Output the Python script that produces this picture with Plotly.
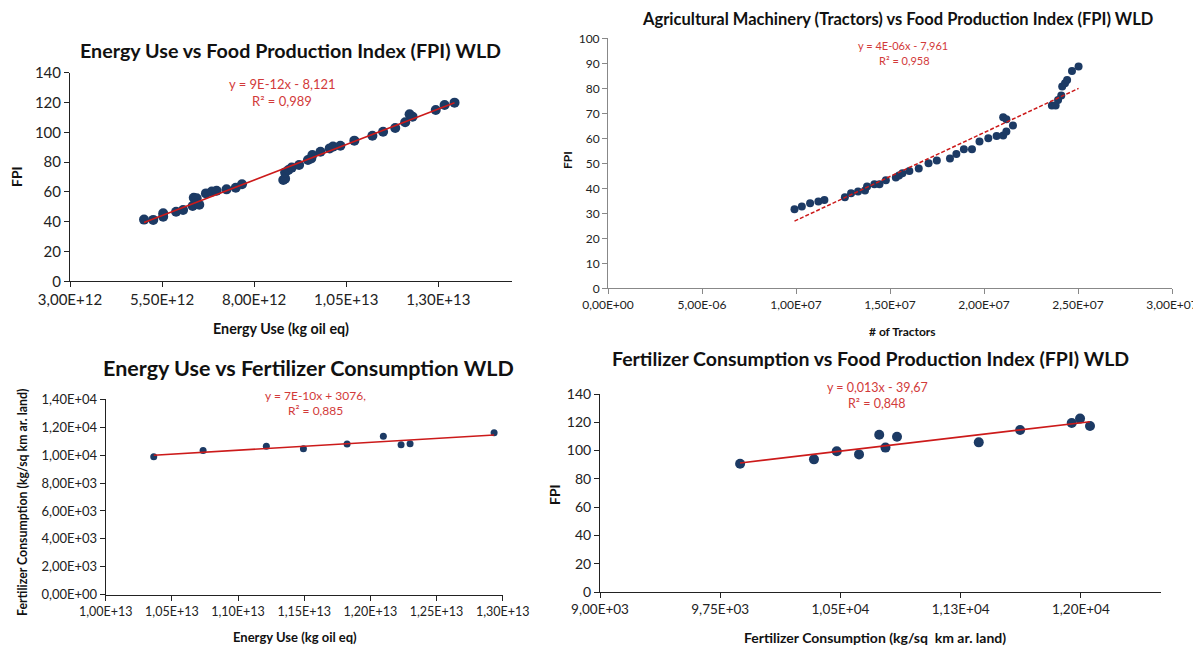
import numpy as np
import plotly.graph_objects as go

W, H = 1201, 648
OX, OY = 8, 8          # page body margin of the html page
FW, FH = W - OX, H - OY

# ---------------- DATA ----------------
# Panel 1: Energy use (kg oil eq) vs FPI
energy_p1 = [5.01e12, 5.26e12, 5.53e12, 5.53e12, 5.88e12, 6.07e12, 6.33e12, 6.36e12, 6.44e12, 6.44e12,
             6.51e12, 6.69e12, 6.85e12, 6.98e12, 7.25e12, 7.50e12, 7.67e12, 8.79e12, 8.84e12, 8.84e12,
             8.93e12, 9.02e12, 9.22e12, 9.46e12, 9.55e12, 9.58e12, 9.80e12, 10.05e12, 10.14e12, 10.34e12,
             10.72e12, 11.21e12, 11.50e12, 11.83e12, 12.10e12, 12.22e12, 12.30e12, 12.93e12, 13.17e12, 13.44e12]
fpi_p1 = [41.4, 41.2, 45.6, 43.4, 46.7, 47.9, 50.5, 56.1, 55.7, 52.3,
          51.4, 59.0, 60.2, 60.8, 61.7, 62.8, 65.1, 68.0, 68.9, 73.1,
          74.7, 76.3, 78.1, 81.4, 82.5, 84.8, 87.0, 89.2, 90.4, 91.0,
          94.4, 97.7, 100.4, 102.9, 106.7, 112.1, 110.5, 115.0, 118.3, 119.9]

# Panel 2: number of tractors vs FPI
tractors_p2 = [9.92e6, 10.31e6, 10.75e6, 11.19e6, 11.51e6, 12.60e6, 12.93e6, 13.30e6, 13.67e6, 13.78e6,
               14.17e6, 14.44e6, 14.78e6, 15.31e6, 15.48e6, 15.66e6, 16.03e6, 16.53e6, 17.05e6, 17.49e6,
               18.19e6, 18.53e6, 18.93e6, 19.36e6, 19.76e6, 20.23e6, 20.67e6, 21.02e6, 21.02e6, 21.19e6,
               21.19e6, 21.54e6, 23.61e6, 23.81e6, 23.94e6, 24.11e6, 24.16e6, 24.31e6, 24.42e6, 24.68e6,
               25.03e6]
fpi_p2 = [31.6, 32.7, 34.0, 34.7, 35.3, 36.4, 38.0, 38.7, 39.1, 40.7,
          41.6, 41.6, 43.2, 44.3, 45.1, 46.0, 46.9, 47.9, 50.0, 51.1,
          51.9, 53.7, 55.6, 55.6, 58.7, 60.0, 60.9, 61.1, 68.4, 67.6,
          62.7, 65.1, 73.1, 73.1, 75.3, 77.1, 80.7, 82.0, 83.3, 86.9,
          88.7]

# Panel 3: Energy use vs fertilizer consumption
energy_p3 = [1.0363e13, 1.0736e13, 1.1214e13, 1.1494e13, 1.1824e13, 1.2098e13, 1.2232e13, 1.2300e13, 1.2935e13]
fert_p3 = [9890, 10340, 10630, 10460, 10800, 11350, 10750, 10820, 11610]

# Panel 4: Fertilizer consumption vs FPI
fert_p4 = [9874, 10335, 10477, 10616, 10742, 10781, 10853, 11363, 11621, 11943, 11995, 12057]
fpi_p4 = [90.7, 93.8, 99.5, 97.3, 111.2, 102.1, 109.8, 105.8, 114.5, 119.5, 122.6, 117.4]

# Tick values / labels
p1_xticks = [3.0e12, 5.5e12, 8.0e12, 10.5e12, 13.0e12]
p1_xlabels = ["3,00E+12", "5,50E+12", "8,00E+12", "1,05E+13", "1,30E+13"]
p1_yticks = [0, 20, 40, 60, 80, 100, 120, 140]

p2_xticks = [0, 5e6, 1e7, 1.5e7, 2e7, 2.5e7, 3e7]
p2_xlabels = ["0,00E+00", "5,00E-06", "1,00E+07", "1,50E+07", "2,00E+07", "2,50E+07", "3,00E+07"]
p2_yticks = [0, 10, 20, 30, 40, 50, 60, 70, 80, 90, 100]

p3_xticks = [1.00e13, 1.05e13, 1.10e13, 1.15e13, 1.20e13, 1.25e13, 1.30e13]
p3_xlabels = ["1,00E+13", "1,05E+13", "1,10E+13", "1,15E+13", "1,20E+13", "1,25E+13", "1,30E+13"]
p3_yticks = [0, 2000, 4000, 6000, 8000, 10000, 12000, 14000]
p3_ylabels = ["0,00E+00", "2,00E+03", "4,00E+03", "6,00E+03", "8,00E+03", "1,00E+04", "1,20E+04", "1,40E+04"]

p4_xticks = [9000, 9750, 10500, 11250, 12000]
p4_xlabels = ["9,00E+03", "9,75E+03", "1,05E+04", "1,13E+04", "1,20E+04"]
p4_yticks = [0, 20, 40, 60, 80, 100, 120, 140]

# ---------------- STYLE ----------------
DOT = "#1C3A64"
RED = "#CC1A1A"
RED_TXT = "#D23A3A"
FONT = "Lato, 'Open Sans', sans-serif"


def px(x, y):
    return (x - OX) / FW, 1 - (y - OY) / FH


def dom_x(a, b):
    return [(a - OX) / FW, (b - OX) / FW]


def dom_y(top, bottom):
    return [1 - (bottom - OY) / FH, 1 - (top - OY) / FH]


fig = go.Figure()


def add_panel(idx, xs, ys, msize, dash, lw):
    xa = "x" if idx == 1 else f"x{idx}"
    ya = "y" if idx == 1 else f"y{idx}"
    fig.add_trace(go.Scatter(x=xs, y=ys, mode="markers", xaxis=xa, yaxis=ya,
                             marker=dict(color=DOT, size=msize, line=dict(width=0)),
                             showlegend=False, hoverinfo="x+y", cliponaxis=False))
    xs_a = np.array(xs, dtype=float)
    ys_a = np.array(ys, dtype=float)
    k, b = np.polyfit(xs_a, ys_a, 1)
    lx = np.array([xs_a.min(), xs_a.max()])
    fig.add_trace(go.Scatter(x=lx, y=k * lx + b, mode="lines", xaxis=xa, yaxis=ya,
                             line=dict(color=RED, width=lw, dash=dash),
                             showlegend=False, hoverinfo="skip"))


add_panel(1, energy_p1, fpi_p1, 10, "solid", 1.5)
add_panel(2, tractors_p2, fpi_p2, 8, "4px,2px", 1.5)
add_panel(3, energy_p3, fert_p3, 7, "solid", 1.6)
add_panel(4, fert_p4, fpi_p4, 10, "solid", 1.6)


def axis(domain, rng, tickvals, ticktext, size, linecolor, anchor):
    return dict(domain=domain, range=rng, tickmode="array", tickvals=tickvals, ticktext=ticktext,
                showgrid=False, zeroline=False, showline=True, linecolor=linecolor, linewidth=1,
                ticks="outside", ticklen=5, tickcolor=linecolor, tickwidth=1, automargin=False,
                ticklabeloverflow="allow",
                tickfont=dict(family=FONT, size=size, color="#222222"), anchor=anchor)


fig.update_layout(
    width=FW, height=FH, margin=dict(l=0, r=0, t=0, b=0, autoexpand=False),
    paper_bgcolor="white", plot_bgcolor="rgba(0,0,0,0)",
    xaxis=axis(dom_x(70, 512), [3e12, 1.5e13], p1_xticks, p1_xlabels, 15, "#222222", "y"),
    yaxis=axis(dom_y(72.7, 281.3), [0, 140], p1_yticks, [str(v) for v in p1_yticks], 15, "#222222", "x"),
    xaxis2=axis(dom_x(608, 1172), [0, 3e7], p2_xticks, p2_xlabels, 12, "#888888", "y2"),
    yaxis2=axis(dom_y(38.3, 288.3), [0, 100], p2_yticks, [str(v) for v in p2_yticks], 12, "#888888", "x2"),
    xaxis3=axis(dom_x(105.7, 502.7), [1e13, 1.3e13], p3_xticks, p3_xlabels, 12.5, "#222222", "y3"),
    yaxis3=axis(dom_y(399.3, 594.7), [0, 14000], p3_yticks, p3_ylabels, 13, "#222222", "x3"),
    xaxis4=axis(dom_x(600, 1161), [9000, 12500], p4_xticks, p4_xlabels, 13.5, "#222222", "y4"),
    yaxis4=axis(dom_y(394, 592), [0, 140], p4_yticks, [str(v) for v in p4_yticks], 14, "#222222", "x4"),
)

anns = []


def ann(text, x, y, size, color="#111111", bold=False, angle=0):
    ax, ay = px(x, y)
    t = f"<b>{text}</b>" if bold else text
    anns.append(dict(text=t, x=ax, y=ay, xref="paper", yref="paper", showarrow=False,
                     xanchor="center", yanchor="middle", textangle=angle,
                     font=dict(family=FONT, size=size, color=color)))


# Titles
ann("Energy Use vs Food Production Index (FPI) WLD", 290, 51, 19.7, bold=True)
ann("Agricultural Machinery (Tractors) vs Food Production Index (FPI) WLD", 897, 19, 16.5, bold=True)
ann("Energy Use vs Fertilizer Consumption WLD", 308, 368, 21.5, bold=True)
ann("Fertilizer Consumption vs Food Production Index (FPI) WLD", 870, 358, 19.5, bold=True)

# Trendline equations
ann("y = 9E-12x - 8,121", 282, 84, 13, RED_TXT)
ann("R² = 0,989", 282, 101, 13, RED_TXT)
ann("y = 4E-06x - 7,961", 903, 46, 11, RED_TXT)
ann("R² = 0,958", 904, 60, 11, RED_TXT)
ann("y = 7E-10x + 3076,", 315, 395, 12, RED_TXT)
ann("R² = 0,885", 315, 410, 12, RED_TXT)
ann("y = 0,013x - 39,67", 877, 387, 12.5, RED_TXT)
ann("R² = 0,848", 877, 403, 12.5, RED_TXT)

# Axis titles
ann("Energy Use (kg oil eq)", 281, 328, 14.3, bold=True)
ann("FPI", 16, 177, 14, bold=True, angle=-90)
ann("# of Tractors", 902, 331, 12, bold=True)
ann("FPI", 567, 160, 12, bold=True, angle=-90)
ann("Energy Use (kg oil eq)", 295, 637, 13, bold=True)
ann("Fertilizer Consumption (kg/sq km ar. land)", 22, 503, 12.3, bold=True, angle=-90)
ann("Fertilizer Consumption (kg/sq  km ar. land)", 875, 637, 14, bold=True)
ann("FPI", 554, 495, 14, bold=True, angle=-90)

fig.update_layout(annotations=anns)
fig.write_html("out.html")
